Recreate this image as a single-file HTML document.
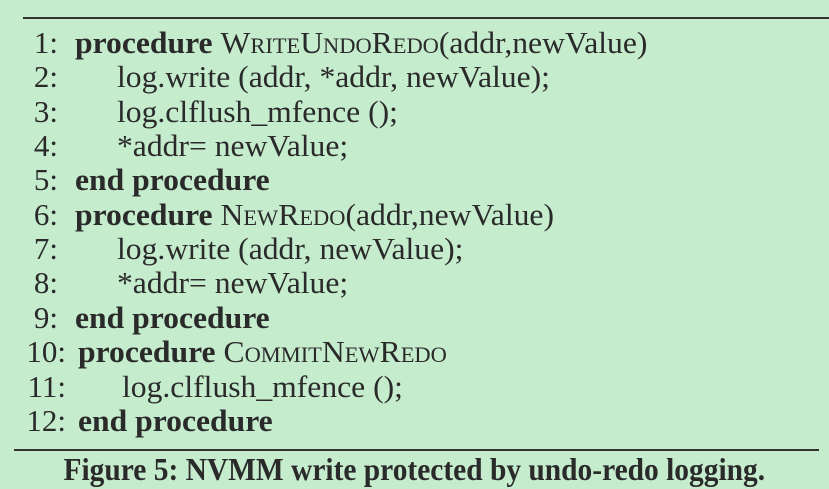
<!DOCTYPE html>
<html><head><meta charset="utf-8"><style>
html,body{margin:0;padding:0}
body{width:829px;height:489px;background:#c6ecce;position:relative;overflow:hidden;font-family:"Liberation Serif",serif;color:#2a2a2a;font-size:31px}
.l{position:absolute;line-height:30px;white-space:nowrap;transform:scaleX(1.02);transform-origin:0 0}
.n{position:absolute;line-height:30px;white-space:nowrap;text-align:right;width:58px;left:0}
b{font-weight:bold}
.sc{font-variant:small-caps}
.rule{position:absolute;height:2px;background:#333}
</style></head><body>
<div class="rule" style="left:23px;right:0;top:17px"></div>
<div class="n" style="top:28px">1:</div><div class="l" style="left:75px;top:28px"><b>procedure</b> <span class="sc">WriteUndoRedo</span>(addr,newValue)</div>
<div class="n" style="top:62px">2:</div><div class="l" style="left:117px;top:62px">log.write (addr, *addr, newValue);</div>
<div class="n" style="top:97px">3:</div><div class="l" style="left:117px;top:97px">log.clflush_mfence ();</div>
<div class="n" style="top:131px">4:</div><div class="l" style="left:117px;top:131px">*addr= newValue;</div>
<div class="n" style="top:165px">5:</div><div class="l" style="left:75px;top:165px"><b>end procedure</b></div>
<div class="n" style="top:200px">6:</div><div class="l" style="left:75px;top:200px"><b>procedure</b> <span class="sc">NewRedo</span>(addr,newValue)</div>
<div class="n" style="top:234px">7:</div><div class="l" style="left:117px;top:234px">log.write (addr, newValue);</div>
<div class="n" style="top:268px">8:</div><div class="l" style="left:117px;top:268px">*addr= newValue;</div>
<div class="n" style="top:303px">9:</div><div class="l" style="left:75px;top:303px"><b>end procedure</b></div>
<div class="n" style="top:337px;width:66px">10:</div><div class="l" style="left:78px;top:337px"><b>procedure</b> <span class="sc">CommitNewRedo</span></div>
<div class="n" style="top:372px;width:66px">11:</div><div class="l" style="left:122px;top:372px">log.clflush_mfence ();</div>
<div class="n" style="top:406px;width:66px">12:</div><div class="l" style="left:78px;top:406px"><b>end procedure</b></div>
<div class="rule" style="left:14px;width:805px;top:449px"></div>
<div style="position:absolute;left:0;width:829px;text-align:center;top:454px;line-height:30px;white-space:nowrap;font-size:32px"><b style="display:inline-block;transform:scaleX(0.92)">Figure 5: NVMM write protected by undo-redo logging.</b></div>
</body></html>
